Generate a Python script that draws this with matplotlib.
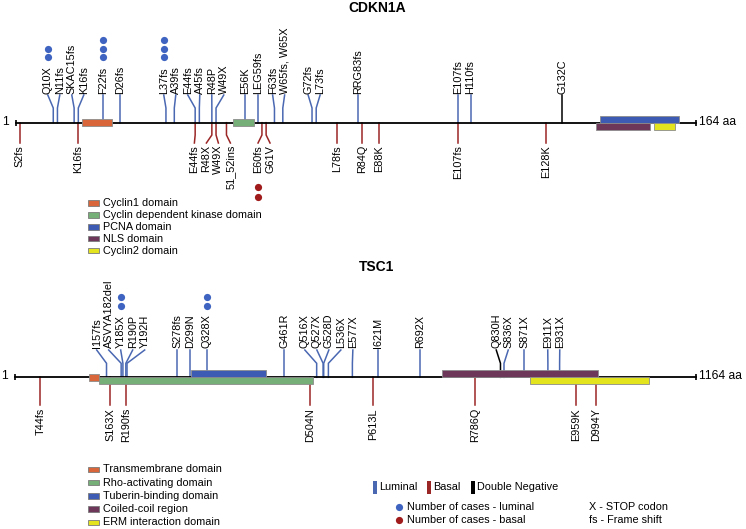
import matplotlib
matplotlib.use('Agg')
import matplotlib.pyplot as plt
from matplotlib.patches import Rectangle

plt.rcParams['font.family'] = ['Liberation Sans', 'DejaVu Sans']

# ---------------- data ----------------
cdkn_name = 'CDKN1A'
cdkn_length = 164
cdkn_domain_names = ['Cyclin1 domain', 'Cyclin dependent kinase domain',
                     'PCNA domain', 'NLS domain', 'Cyclin2 domain']
cdkn_domain_start = [17, 53, 141, 140, 154]
cdkn_domain_end = [24, 58, 160, 153, 159]

cdkn_up_labels = ['Q10X', 'N11fs', 'SKAC15fs', 'K16fs', 'F22fs', 'D26fs', 'L37fs',
                  'A39fs', 'E44fs', 'A45fs', 'R48P', 'W49X', 'E56K', 'LEG59fs',
                  'F63fs', 'W65fs, W65X', 'G72fs', 'L73fs', 'RRG83fs', 'E107fs',
                  'H110fs', 'G132C']
cdkn_up_pos = [10, 11, 15, 16, 22, 26, 37, 39, 44, 45, 48, 49, 56, 59, 63, 65,
               72, 73, 83, 107, 110, 132]
cdkn_up_subtype = ['Luminal'] * 21 + ['Double Negative']
cdkn_up_cases = [2, 1, 1, 1, 3, 1, 3, 1, 1, 1, 1, 1, 1, 1, 1, 1, 1, 1, 1, 1, 1, 1]

cdkn_down_labels = ['S2fs', 'K16fs', 'E44fs', 'R48X', 'W49X', '51_52ins', 'E60fs',
                    'G61V', 'L78fs', 'R84Q', 'E88K', 'E107fs', 'E128K']
cdkn_down_pos = [2, 16, 44, 48, 49, 51.5, 60, 61, 78, 84, 88, 107, 128]
cdkn_down_cases = [1, 1, 1, 1, 1, 1, 2, 1, 1, 1, 1, 1, 1]

tsc_name = 'TSC1'
tsc_length = 1164
tsc_domain_names = ['Transmembrane domain', 'Rho-activating domain',
                    'Tuberin-binding domain', 'Coiled-coil region',
                    'ERM interaction domain']
tsc_domain_start = [127, 145, 302, 730, 881]
tsc_domain_end = [144, 510, 430, 996, 1084]

tsc_up_labels = ['I157fs', 'ASVYA182del', 'Y185X', 'R190P', 'Y192H', 'S278fs',
                 'D299N', 'Q328X', 'G461R', 'Q516X', 'Q527X', 'G528D', 'L536X',
                 'E577X', 'I621M', 'R692X', 'Q830H', 'S836X', 'S871X', 'E911X',
                 'E931X']
tsc_up_pos = [157, 182, 185, 190, 192, 278, 299, 328, 461, 516, 527, 528, 536,
              577, 621, 692, 830, 836, 871, 911, 931]
tsc_up_subtype = ['Luminal'] * 16 + ['Double Negative'] + ['Luminal'] * 4
tsc_up_cases = [1, 1, 2, 1, 1, 1, 1, 2, 1, 1, 1, 1, 1, 1, 1, 1, 1, 1, 1, 1, 1]

tsc_down_labels = ['T44fs', 'S163X', 'R190fs', 'D504N', 'P613L', 'R786Q',
                   'E959K', 'D994Y']
tsc_down_pos = [44, 163, 190, 504, 613, 786, 959, 994]
tsc_down_cases = [1, 1, 1, 1, 1, 1, 1, 1]

# ---------------- styles ----------------
C_ORANGE = '#D8663A'
C_GREEN = '#76B078'
C_BLUE = '#3D5BB2'
C_PURPLE = '#6C3758'
C_YELLOW = '#E3E31E'
C_LUM = '#4A68B2'
C_BAS = '#9B2626'
C_DN = '#000000'
DOT_BLUE = '#3E63C0'
DOT_RED = '#A01B1B'
subtype_color = {'Luminal': C_LUM, 'Basal': C_BAS, 'Double Negative': C_DN}

cdkn_dom_colors = [C_ORANGE, C_GREEN, C_BLUE, C_PURPLE, C_YELLOW]
cdkn_dom_place = ['center', 'center', 'above', 'below', 'below']
tsc_dom_colors = [C_ORANGE, C_GREEN, C_BLUE, C_PURPLE, C_YELLOW]
tsc_dom_place = ['center', 'below', 'above', 'above', 'below']

FS = 7.8
W, H = 746, 529

fig = plt.figure(figsize=(W / 100, H / 100), dpi=100)


def spread(px, d):
    order = sorted(range(len(px)), key=lambda i: px[i])
    clusters = [[i] for i in order]

    def positions(c):
        m = sum(px[i] for i in c) / len(c)
        n = len(c)
        return [m + (k - (n - 1) / 2) * d for k in range(n)]

    merged = True
    while merged:
        merged = False
        for j in range(len(clusters) - 1):
            a = positions(clusters[j])
            b = positions(clusters[j + 1])
            if b[0] - a[-1] < d - 1e-9:
                clusters[j] = clusters[j] + clusters[j + 1]
                del clusters[j + 1]
                merged = True
                break
    out = [0.0] * len(px)
    for c in clusters:
        for i, p in zip(c, positions(c)):
            out[i] = p
    return out


def draw_protein(name, length, x0, x1, lay, dnames, dstart, dend, dcolors, dplace,
                 up_labels, up_pos, up_sub, up_cases,
                 dn_labels, dn_pos, dn_cases):
    s = (x1 - x0) / (length - 1)
    ax = fig.add_axes([0, 0, 1, 1])
    ax.set_xlim(1 - x0 / s, 1 + (W - x0) / s)
    ax.set_ylim(H, 0)
    ax.axis('off')
    ax.patch.set_alpha(0)
    yl = lay['line']
    d = 12.0

    # above (luminal / double negative)
    lab = spread([x0 + (p - 1) * s for p in up_pos], d)
    for p, lpx, t, sub, n in zip(up_pos, lab, up_labels, up_sub, up_cases):
        lx = 1 + (lpx - x0) / s
        col = subtype_color[sub]
        ax.plot([p, p, lx], [yl, lay['up_bend'], lay['up_top']], color=col,
                lw=1.1, zorder=1, solid_joinstyle='miter')
        ax.text(lx, lay['up_text'], t, rotation=90, ha='center', va='bottom',
                fontsize=FS, zorder=5)
        if n > 1:
            ys = [lay['dot_up'] - k * 8.8 for k in range(n)]
            ax.plot([lx] * n, ys, 'o', color=DOT_BLUE, ms=5.2, mec='none', zorder=5)

    # below (basal)
    lab = spread([x0 + (p - 1) * s for p in dn_pos], d)
    for p, lpx, t, n in zip(dn_pos, lab, dn_labels, dn_cases):
        lx = 1 + (lpx - x0) / s
        ax.plot([p, p, lx], [yl, lay['dn_bend'], lay['dn_bot']], color=C_BAS,
                lw=1.1, zorder=1, solid_joinstyle='miter')
        ax.text(lx, lay['dn_text'], t, rotation=90, ha='center', va='top',
                fontsize=FS, zorder=5)
        if n > 1:
            ys = [lay['dot_dn'] + k * 10 for k in range(n)]
            ax.plot([lx] * n, ys, 'o', color=DOT_RED, ms=5.2, mec='none', zorder=5)

    # protein line
    ax.plot([1, length], [yl, yl], color='black', lw=1.3, zorder=2)
    ax.plot([1, length], [yl, yl], ls='none', marker='|', ms=5, mew=1.2,
            color='black', zorder=2)

    # domains
    bh = 7
    for st, en, c, pl in zip(dstart, dend, dcolors, dplace):
        if pl == 'center':
            yb = yl - bh / 2
        elif pl == 'above':
            yb = yl - bh
        else:
            yb = yl
        ax.add_patch(Rectangle((st, yb), en - st, bh, facecolor=c,
                               edgecolor='#8c8c8c', lw=0.6, zorder=3))

    ax.annotate('1', xy=(1, yl), xytext=(-7, 1), textcoords='offset pixels',
                ha='right', va='center', fontsize=8.7)
    ax.annotate('%d aa' % length, xy=(length, yl), xytext=(3, 1),
                textcoords='offset pixels', ha='left', va='center', fontsize=8.7)
    ax.text(1 + (lay['title_x'] - x0) / s, lay['title_y'], name, ha='center',
            va='center', fontsize=10, fontweight='bold')

    # domain legend
    for k, (nm, c) in enumerate(zip(dnames, dcolors)):
        yc = lay['leg_y'] + k * lay['leg_dy']
        ov.add_patch(Rectangle((87.5, yc - 2.8), 11, 5.6, facecolor=c,
                               edgecolor='#7a7a7a', lw=0.6))
        ov.text(103, yc, nm, va='center', ha='left', fontsize=FS)


ov = fig.add_axes([0, 0, 1, 1])
ov.set_xlim(0, W)
ov.set_ylim(H, 0)
ov.axis('off')
ov.patch.set_alpha(0)

cdkn_layout = dict(line=122.7, up_bend=108, up_top=95, up_text=93.5,
                   dn_bend=135, dn_bot=143, dn_text=145, dot_up=57.3, dot_dn=187,
                   title_x=377, title_y=8, leg_y=203, leg_dy=11.9)
tsc_layout = dict(line=377.3, up_bend=363.3, up_top=350, up_text=347.5,
                  dn_bend=405, dn_bot=405, dn_text=408, dot_up=306, dot_dn=420,
                  title_x=377, title_y=267, leg_y=469.3, leg_dy=13.25)

draw_protein(cdkn_name, cdkn_length, 15.7, 696, cdkn_layout, cdkn_domain_names,
             cdkn_domain_start, cdkn_domain_end, cdkn_dom_colors, cdkn_dom_place,
             cdkn_up_labels, cdkn_up_pos, cdkn_up_subtype, cdkn_up_cases,
             cdkn_down_labels, cdkn_down_pos, cdkn_down_cases)
draw_protein(tsc_name, tsc_length, 15.2, 696, tsc_layout, tsc_domain_names,
             tsc_domain_start, tsc_domain_end, tsc_dom_colors, tsc_dom_place,
             tsc_up_labels, tsc_up_pos, tsc_up_subtype, tsc_up_cases,
             tsc_down_labels, tsc_down_pos, tsc_down_cases)

# subtype legend
for x, lbl, c in [(373.3, 'Luminal', C_LUM), (427.3, 'Basal', C_BAS),
                  (471, 'Double Negative', C_DN)]:
    ov.add_patch(Rectangle((x, 480.5), 3.6, 13, facecolor=c, edgecolor='none'))
    ov.text(x + 6, 487, lbl, va='center', ha='left', fontsize=FS)

ov.plot([399.3], [507.3], 'o', color=DOT_BLUE, ms=5.2, mec='none')
ov.text(407.3, 507.3, 'Number of cases - luminal', va='center', ha='left', fontsize=FS)
ov.plot([399.3], [520], 'o', color=DOT_RED, ms=5.2, mec='none')
ov.text(407.3, 520, 'Number of cases - basal', va='center', ha='left', fontsize=FS)
ov.text(589.3, 507.3, 'X - STOP codon', va='center', ha='left', fontsize=FS)
ov.text(589.3, 520, 'fs - Frame shift', va='center', ha='left', fontsize=FS)

fig.savefig('out.png', dpi=100, facecolor='white')
